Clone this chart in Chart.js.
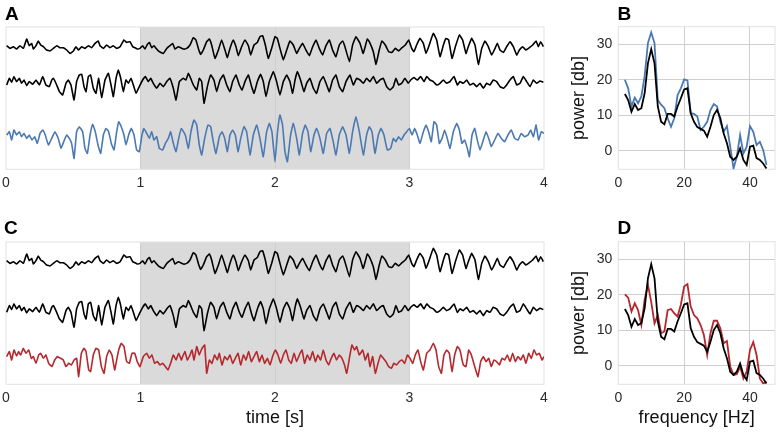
<!DOCTYPE html>
<html><head><meta charset="utf-8">
<script src="https://cdn.jsdelivr.net/npm/chart.js@4"></script>
<style>
html,body{margin:0;padding:0;background:#fff;}
body{width:777px;height:432px;position:relative;overflow:hidden;font-family:'Liberation Sans',Arial,sans-serif;}
canvas{position:absolute;}
.lbl{position:absolute;font:bold 19px 'Liberation Sans',Arial,sans-serif;line-height:19px;color:#000;z-index:2;}
</style></head><body>
<canvas id="cA" width="555" height="200" style="left:0;top:0"></canvas>
<canvas id="cB" width="222" height="200" style="left:555px;top:0"></canvas>
<canvas id="cC" width="555" height="217" style="left:0;top:215px"></canvas>
<canvas id="cD" width="222" height="217" style="left:555px;top:215px"></canvas>
<div class="lbl" style="left:5px;top:4px">A</div>
<div class="lbl" style="left:617.5px;top:4.2px">B</div>
<div class="lbl" style="left:4px;top:217.5px">C</div>
<div class="lbl" style="left:617.5px;top:217.5px">D</div>
<script>
// ---------- data ----------
const timeTicks = [0, 1, 2, 3, 4];
const freqTicks = [0, 20, 40];
const powerTicks = [0, 10, 20, 30];
const shadedWindow = [1, 3];
const timeTitle = 'time [s]';
const freqTitle = 'frequency [Hz]';
const powerTitle = 'power [db]';

const freqs = [2,3,4,5,6,7,8,9,10,11,12,13,14,15,16,17,18,19,20,21,22,23,24,25,26,27,28,29,30,31,32,33,34,35,36,37,38,39,40,41,42,43,44,45];
const specBlack = [16,14.3,11,13.2,11.5,12,16.2,24.6,28.6,24.6,12.5,8.2,7.5,10.4,10.4,9.7,12.5,14.8,17.3,17.6,10.6,8.2,6.7,6.2,5.7,4,6.8,10.1,11.5,9.2,5,2.2,-1.6,-2.5,-1.6,0.7,-2.5,-3.9,1.2,1.5,-2,-2.5,-3.5,-4.9];
const specBlue = [20,17.6,12.5,15,13.4,15.3,21,30.3,33.3,30.3,14.3,13,12,9.2,6.8,9.2,15.7,17.6,20.1,19.8,10.6,10.4,9.7,5.9,6.8,8.2,11.5,13.2,12.5,8.2,5.4,7,1.2,-4.9,-1.6,4.5,-0.7,1.2,7,5.4,1.7,2.6,0.3,-3.9];
const specRed = [20.1,19.2,15.3,17.6,15.7,11.5,18.6,22.8,18,12,14.3,9.2,9.7,15.7,16,14.8,13.9,17.2,22.3,23,16.7,14.3,13.4,11.5,8.7,3.1,9.2,12.7,12.7,10.6,6.4,7,-0.2,-2.5,-2.3,-0.2,-3.5,-1.6,4.5,6.7,3.1,-3.5,-4.9,-4.4];

// traces: [time s, amplitude]
const traceBlack1 = [[0.005,1.0],[0.030,-1.7],[0.055,0],[0.079,-2.3],[0.104,1.0],[0.129,-1.7],[0.154,7.7],[0.173,1.0],[0.191,3.3],[0.203,-2.3],[0.223,1.0],[0.240,5.7],[0.258,1.7],[0.278,0],[0.302,-3.3],[0.327,-4.3],[0.352,-1.7],[0.377,1.0],[0.401,-1.0],[0.426,-1.0],[0.451,-3.3],[0.476,-6.7],[0.501,-4.3],[0.520,0],[0.538,-3.3],[0.563,0],[0.587,-1.7],[0.612,1.0],[0.637,-1.0],[0.662,3.3],[0.686,5.7],[0.699,1.0],[0.724,-1.7],[0.748,1.7],[0.773,-1.0],[0.798,1.0],[0.823,-1.7],[0.848,0],[0.877,6.7],[0.897,4.3],[0.922,5.0],[0.942,0],[0.959,-1.0],[0.976,-2.3],[0.996,-1.7],[1.016,1.0],[1.033,-2.3],[1.051,2.3],[1.066,4.3],[1.083,-1.0],[1.100,1.0],[1.120,-2.3],[1.140,-5.0],[1.170,-6.7],[1.195,-1.7],[1.219,1.0],[1.239,3.3],[1.256,-2.3],[1.281,0],[1.318,-2.3],[1.343,-1.7],[1.368,1.7],[1.393,9.0],[1.412,6.7],[1.430,-1.7],[1.447,-7.7],[1.467,-3.3],[1.492,5.0],[1.512,7.7],[1.529,1.7],[1.554,-11.7],[1.579,-3.3],[1.603,6.7],[1.628,-3.3],[1.646,-11.0],[1.665,-1.7],[1.690,6.7],[1.710,0],[1.727,-9.0],[1.752,0],[1.777,6.7],[1.802,1.0],[1.819,-8.3],[1.844,1.7],[1.869,4.3],[1.888,10.0],[1.908,11.0],[1.928,1.7],[1.950,-11.7],[1.975,-1.7],[2.000,10.0],[2.017,8.3],[2.037,-1.7],[2.062,-13.3],[2.087,-3.3],[2.111,5.7],[2.136,1.7],[2.161,-6.7],[2.181,-1.7],[2.205,3.3],[2.230,-3.3],[2.255,-9.0],[2.280,0],[2.305,6.7],[2.329,-1.7],[2.354,-8.3],[2.379,1.0],[2.404,6.7],[2.428,-3.3],[2.453,-10.0],[2.478,1.7],[2.503,5.7],[2.520,0],[2.553,-15.0],[2.577,1.7],[2.602,10.0],[2.632,3.3],[2.656,-6.7],[2.686,7.7],[2.701,5.0],[2.731,-5.0],[2.751,-17.7],[2.775,-3.3],[2.795,5.7],[2.820,1.7],[2.845,-5.0],[2.870,-5.7],[2.894,-1.7],[2.919,-4.3],[2.944,-1.0],[2.969,1.7],[2.994,6.7],[3.016,-1.7],[3.033,-5.0],[3.053,1.7],[3.078,8.3],[3.103,3.3],[3.123,-6.7],[3.147,1.7],[3.177,13.3],[3.202,6.7],[3.227,-10.0],[3.252,1.7],[3.271,8.3],[3.291,6.7],[3.316,-11.7],[3.341,0],[3.371,11.7],[3.395,6.7],[3.420,-6.7],[3.437,0],[3.462,8.3],[3.487,1.7],[3.512,-17.7],[3.537,-1.7],[3.561,5.7],[3.586,0],[3.611,-8.3],[3.636,-1.7],[3.653,3.3],[3.673,-3.3],[3.698,-5.7],[3.722,0],[3.747,5.0],[3.772,0],[3.797,-8.3],[3.817,-3.3],[3.841,0],[3.866,-3.3],[3.891,-1.0],[3.916,1.7],[3.941,5.7],[3.958,0],[3.975,5.0],[3.995,0]];

const traceBlack2 = [[0.005,-1.7],[0.025,5.0],[0.042,1.0],[0.059,6.7],[0.079,1.7],[0.099,5.0],[0.116,0],[0.134,3.3],[0.154,-2.3],[0.173,1.7],[0.198,-1.0],[0.223,3.3],[0.248,-1.7],[0.273,6.7],[0.297,-1.7],[0.322,-3.3],[0.340,3.3],[0.352,5.0],[0.377,-1.7],[0.397,-8.3],[0.421,-11.7],[0.446,0],[0.463,3.3],[0.483,-1.7],[0.506,-16.7],[0.525,1.7],[0.545,8.3],[0.563,9.0],[0.580,-3.3],[0.595,-8.3],[0.612,6.7],[0.629,8.3],[0.649,-5.0],[0.669,-10.0],[0.689,5.0],[0.711,-14.3],[0.736,3.3],[0.761,10.0],[0.781,-1.7],[0.798,-13.3],[0.818,5.0],[0.835,13.3],[0.853,5.0],[0.872,-8.3],[0.892,3.3],[0.910,0],[0.929,5.0],[0.947,-1.7],[0.967,-10.0],[0.991,-3.3],[1.016,3.3],[1.036,6.7],[1.058,1.7],[1.076,5.0],[1.095,0],[1.120,-5.0],[1.145,0],[1.170,-3.3],[1.195,1.7],[1.219,5.0],[1.244,-5.0],[1.264,-16.7],[1.289,1.7],[1.318,5.0],[1.338,3.3],[1.356,10.0],[1.373,5.0],[1.393,-1.7],[1.418,-6.7],[1.437,5.0],[1.455,1.7],[1.472,-20.0],[1.497,-3.3],[1.522,8.3],[1.546,3.3],[1.566,-8.3],[1.591,3.3],[1.616,8.3],[1.641,-1.7],[1.665,-8.3],[1.685,1.7],[1.710,8.3],[1.735,-1.7],[1.755,-6.7],[1.777,1.7],[1.802,8.3],[1.826,-3.3],[1.844,-10.0],[1.869,1.7],[1.893,9.0],[1.913,1.7],[1.933,-13.3],[1.958,1.7],[1.988,11.7],[2.012,1.7],[2.037,-11.7],[2.062,1.7],[2.087,8.3],[2.111,1.7],[2.131,-10.0],[2.149,3.3],[2.166,11.7],[2.190,3.3],[2.215,-8.3],[2.235,0],[2.260,5.0],[2.285,-5.0],[2.309,-10.0],[2.334,1.7],[2.359,6.7],[2.384,-1.7],[2.404,-8.3],[2.428,3.3],[2.453,8.3],[2.478,-3.3],[2.503,-8.3],[2.528,1.7],[2.557,8.3],[2.582,-1.7],[2.607,5.0],[2.632,3.3],[2.657,0],[2.681,5.0],[2.706,1.7],[2.731,6.7],[2.756,0],[2.780,3.3],[2.805,5.0],[2.830,-3.3],[2.855,-6.7],[2.880,-3.3],[2.899,5.0],[2.919,-1.7],[2.942,0],[2.966,5.0],[2.991,0],[3.009,3.3],[3.033,5.7],[3.058,3.3],[3.083,6.7],[3.108,1.7],[3.128,6.7],[3.152,3.3],[3.177,1.7],[3.202,-1.7],[3.227,0],[3.252,3.3],[3.276,0],[3.301,1.7],[3.331,6.7],[3.356,-1.7],[3.375,1.7],[3.400,0],[3.425,3.3],[3.450,-1.7],[3.475,0],[3.499,-3.3],[3.524,0],[3.549,-5.0],[3.574,0],[3.598,-1.7],[3.623,3.3],[3.648,1.7],[3.673,-3.3],[3.698,-5.0],[3.722,-1.7],[3.747,3.3],[3.772,6.7],[3.797,-1.7],[3.822,0],[3.846,6.7],[3.871,1.7],[3.896,-3.3],[3.921,3.3],[3.945,0],[3.970,2.3],[3.995,1.0]];

const traceBlue = [[0.005,1.7],[0.025,5.0],[0.042,-3.3],[0.059,6.7],[0.079,1.7],[0.099,5.0],[0.116,0],[0.134,3.3],[0.154,-1.7],[0.173,1.7],[0.193,-3.3],[0.213,0],[0.233,-6.7],[0.253,3.3],[0.273,6.7],[0.292,1.7],[0.315,-8.3],[0.340,-1.7],[0.364,5.0],[0.389,-1.7],[0.409,-11.7],[0.434,-3.3],[0.451,1.7],[0.471,-1.7],[0.488,-6.7],[0.506,-21.7],[0.525,5.0],[0.545,10.0],[0.570,5.0],[0.587,-11.7],[0.605,-16.7],[0.625,1.7],[0.644,12.3],[0.664,5.0],[0.684,-8.3],[0.704,-16.7],[0.724,1.7],[0.743,8.3],[0.763,5.0],[0.783,-6.7],[0.803,-13.3],[0.823,5.0],[0.838,15.0],[0.857,10.0],[0.877,1.7],[0.892,-8.3],[0.912,1.7],[0.932,8.3],[0.952,1.7],[0.971,-13.3],[0.991,-15.0],[1.011,1.7],[1.026,8.3],[1.046,3.3],[1.066,-1.7],[1.083,5.0],[1.100,-3.3],[1.120,0],[1.140,-11.7],[1.165,-13.3],[1.185,-6.7],[1.207,-1.7],[1.224,5.0],[1.244,-6.7],[1.264,-15.0],[1.284,-1.7],[1.304,8.3],[1.333,1.7],[1.356,-11.7],[1.375,5.0],[1.398,16.7],[1.418,11.7],[1.437,-8.3],[1.455,-18.3],[1.477,-1.7],[1.502,11.7],[1.522,10.0],[1.541,-5.0],[1.561,-16.7],[1.586,0],[1.606,5.0],[1.626,-1.7],[1.646,-15.0],[1.665,1.7],[1.685,6.7],[1.705,1.7],[1.725,-15.0],[1.745,-1.7],[1.770,10.0],[1.789,5.0],[1.814,-18.3],[1.839,1.7],[1.864,11.7],[1.888,-1.7],[1.913,-20.0],[1.938,5.0],[1.958,13.3],[1.977,5.0],[2.000,-25.0],[2.019,5.0],[2.037,21.7],[2.056,11.7],[2.074,-15.0],[2.092,-25.0],[2.116,1.7],[2.136,13.3],[2.161,-1.7],[2.181,-18.3],[2.205,3.3],[2.225,11.7],[2.245,5.0],[2.265,-15.0],[2.290,1.7],[2.309,8.3],[2.334,-1.7],[2.359,-16.7],[2.384,3.3],[2.409,8.3],[2.433,-5.0],[2.453,-18.3],[2.478,1.7],[2.503,10.0],[2.528,1.7],[2.553,-16.7],[2.577,5.0],[2.602,20.0],[2.627,5.0],[2.657,-18.3],[2.681,1.7],[2.701,10.0],[2.721,5.0],[2.743,-16.7],[2.768,1.7],[2.788,8.3],[2.810,1.7],[2.835,-13.3],[2.860,-11.7],[2.880,-1.7],[2.899,-5.0],[2.919,0],[2.939,-3.3],[2.959,1.7],[2.979,5.0],[2.999,8.3],[3.019,1.7],[3.038,8.3],[3.058,1.7],[3.078,-6.7],[3.103,5.0],[3.123,11.7],[3.142,5.0],[3.162,-5.0],[3.182,15.0],[3.202,11.7],[3.222,-6.7],[3.242,-1.7],[3.261,6.7],[3.281,-1.7],[3.301,-11.7],[3.326,5.0],[3.351,13.3],[3.371,6.7],[3.390,-6.7],[3.410,-3.3],[3.430,-11.7],[3.445,-20.0],[3.465,1.7],[3.485,8.3],[3.504,-3.3],[3.524,-13.3],[3.549,-3.3],[3.569,5.0],[3.589,-1.7],[3.608,-10.0],[3.633,-3.3],[3.658,3.3],[3.683,-1.7],[3.708,-5.0],[3.732,1.7],[3.757,6.7],[3.782,-1.7],[3.807,-3.3],[3.831,3.3],[3.856,0],[3.881,1.7],[3.901,6.7],[3.921,0],[3.941,11.7],[3.960,-3.3],[3.980,5.0],[4.000,3.3]];

const traceRed = [[0.005,1.7],[0.025,6.7],[0.042,-1.7],[0.059,8.3],[0.079,2.3],[0.094,6.7],[0.109,3.3],[0.129,10.0],[0.149,5.0],[0.169,8.3],[0.188,0],[0.203,1.7],[0.223,-5.0],[0.243,3.3],[0.258,5.0],[0.278,0],[0.297,3.3],[0.317,-5.0],[0.342,-8.3],[0.362,-1.7],[0.382,1.7],[0.406,0],[0.426,-1.7],[0.446,-8.3],[0.466,-5.0],[0.486,-6.7],[0.506,-1.7],[0.525,0],[0.540,-18.3],[0.560,5.0],[0.580,10.0],[0.595,6.7],[0.615,-11.7],[0.629,-13.3],[0.649,3.3],[0.669,10.0],[0.689,8.3],[0.709,-8.3],[0.729,-15.0],[0.748,1.7],[0.768,8.3],[0.788,3.3],[0.808,-11.7],[0.823,-1.7],[0.838,8.3],[0.857,15.0],[0.877,11.7],[0.897,-3.3],[0.917,-5.0],[0.937,5.0],[0.957,5.0],[0.976,-3.3],[0.996,-8.3],[1.021,1.7],[1.046,5.0],[1.066,0],[1.085,3.3],[1.105,-5.0],[1.125,-3.3],[1.145,-6.7],[1.165,-5.0],[1.185,-8.3],[1.204,-11.7],[1.224,-5.0],[1.244,3.3],[1.264,-1.7],[1.284,5.0],[1.304,-1.7],[1.313,1.7],[1.331,6.7],[1.348,-1.7],[1.368,3.3],[1.383,8.3],[1.398,-1.7],[1.418,11.7],[1.437,3.3],[1.457,10.0],[1.477,13.3],[1.492,-15.0],[1.512,-1.7],[1.531,-5.0],[1.551,3.3],[1.571,-1.7],[1.586,5.0],[1.606,-6.7],[1.626,1.7],[1.646,-1.7],[1.665,3.3],[1.685,-5.0],[1.705,0],[1.725,5.0],[1.745,-6.7],[1.765,3.3],[1.784,-1.7],[1.804,6.7],[1.824,-3.3],[1.844,1.7],[1.864,6.7],[1.884,-3.3],[1.903,3.3],[1.923,-5.0],[1.943,0],[1.963,-6.7],[1.982,1.7],[2.002,8.3],[2.022,3.3],[2.042,-5.0],[2.062,3.3],[2.082,8.3],[2.102,-1.7],[2.121,-5.0],[2.141,5.0],[2.161,-3.3],[2.181,3.3],[2.201,8.3],[2.220,-5.0],[2.240,3.3],[2.260,-1.7],[2.280,6.7],[2.300,-3.3],[2.319,3.3],[2.339,-1.7],[2.359,8.3],[2.379,-1.7],[2.399,-6.7],[2.418,0],[2.438,5.0],[2.458,-1.7],[2.478,3.3],[2.498,0],[2.517,-6.7],[2.533,-15.0],[2.553,0],[2.572,13.3],[2.592,8.3],[2.607,11.7],[2.627,3.3],[2.652,8.3],[2.671,-1.7],[2.691,5.0],[2.706,-8.3],[2.726,1.7],[2.746,-15.0],[2.766,-5.0],[2.785,3.3],[2.805,0],[2.825,-3.3],[2.845,-8.3],[2.865,-10.0],[2.884,-5.0],[2.904,-6.7],[2.924,-3.3],[2.944,-1.7],[2.964,-5.0],[2.984,3.3],[3.004,0],[3.024,-5.0],[3.043,3.3],[3.063,8.3],[3.083,-3.3],[3.103,-11.7],[3.128,5.0],[3.152,8.3],[3.177,15.0],[3.197,8.3],[3.217,-8.3],[3.237,-15.0],[3.256,3.3],[3.276,8.3],[3.296,5.0],[3.316,-13.3],[3.336,3.3],[3.356,11.7],[3.375,8.3],[3.400,-6.7],[3.420,-8.3],[3.440,8.3],[3.460,3.3],[3.485,-8.3],[3.509,-18.3],[3.529,-3.3],[3.549,1.7],[3.569,-3.3],[3.589,0],[3.608,-8.3],[3.628,-1.7],[3.648,-3.3],[3.668,-6.7],[3.688,0],[3.708,-1.7],[3.727,3.3],[3.747,-3.3],[3.767,5.0],[3.787,-3.3],[3.807,1.7],[3.827,-1.7],[3.846,3.3],[3.866,-5.0],[3.886,5.0],[3.906,0],[3.926,8.3],[3.945,3.3],[3.965,5.0],[3.985,-1.7],[4.000,1.7]];

// vertical placement of each trace inside its panel (display baselines)
const baseA = {black1: 122.6, black2: 86, blue: 32.6};
const baseC = {black1: 122.6, black2: 73.7, red: 26};

// ---------- styling ----------
const FONT = "'Liberation Sans', Arial, Helvetica, sans-serif";
Chart.defaults.font.family = FONT;
Chart.defaults.font.weight = 'normal';
Chart.defaults.color = '#2a2a2a';
const BLUE = '#4b79b2', RED = '#b5282d', BLACK = '#000';
const GRID = '#cfcfcf', BOX = '#e2e2e2', SHADE = '#dadada';
const TICKFONT = {size: 14, weight: 'normal', family: FONT};
const TITLEFONT = {size: 18, weight: 'normal', family: FONT};

const boxPlugin = {
  id: 'box',
  beforeDraw(chart, args, opts) {
    const {ctx, chartArea: a, scales: {x}} = chart;
    ctx.save();
    if (opts && opts.shade) {
      const x1 = x.getPixelForValue(opts.shade[0]);
      const x2 = x.getPixelForValue(opts.shade[1]);
      ctx.fillStyle = SHADE;
      ctx.fillRect(x1, a.top, x2 - x1, a.bottom - a.top);
    }
    ctx.restore();
  },
  beforeDatasetsDraw(chart) {
    const {ctx, chartArea: a} = chart;
    ctx.save();
    ctx.strokeStyle = BOX;
    ctx.lineWidth = 1;
    ctx.strokeRect(a.left, a.top, a.right - a.left, a.bottom - a.top);
    ctx.restore();
  }
};

const edgeless = c => (c.tick && (c.tick.value === c.scale.min || c.tick.value === c.scale.max)) ? 'rgba(0,0,0,0)' : GRID;
const asTicks = arr => arr.map(v => ({value: v}));
const toXY = (trace, base) => trace.map(([t, v]) => ({x: t, y: v + base}));

function timeChart(id, series, title) {
  return new Chart(document.getElementById(id), {
    type: 'line',
    data: {datasets: series.map(([trace, base, color]) => ({
      data: toXY(trace, base), borderColor: color, borderWidth: 1.6,
      pointRadius: 0, tension: 0.1, fill: false, borderJoinStyle: 'round'
    }))},
    options: {
      responsive: false, animation: false, events: [],
      layout: {padding: {left: 6, right: 11, top: 27, bottom: 0}},
      plugins: {legend: {display: false}, tooltip: {enabled: false}, box: {shade: shadedWindow}},
      scales: {
        x: {
          type: 'linear', min: 0, max: 4,
          afterBuildTicks: s => { s.ticks = asTicks(timeTicks); },
          afterFit: s => { s.height = title ? 47.7 : 30.7; s.paddingLeft = 0; s.paddingRight = 0; },
          grid: {color: edgeless, drawTicks: false, lineWidth: 1},
          border: {display: false},
          ticks: {padding: 5, font: TICKFONT, color: '#2a2a2a', maxRotation: 0, autoSkip: false},
          title: {display: !!title, text: title || '', font: TITLEFONT, color: '#111', padding: {top: 0, bottom: 3.2}}
        },
        y: {type: 'linear', display: false, min: 0, max: 142.3}
      }
    },
    plugins: [boxPlugin]
  });
}

function specChart(id, series, title) {
  return new Chart(document.getElementById(id), {
    type: 'line',
    data: {datasets: series.map(([vals, color]) => ({
      data: freqs.map((f, i) => ({x: f, y: vals[i]})), borderColor: color, borderWidth: 1.8,
      pointRadius: 0, tension: 0, fill: false
    }))},
    options: {
      responsive: false, animation: false, events: [],
      layout: {padding: {left: 0, right: 2, top: 26.7, bottom: 0}},
      plugins: {legend: {display: false}, tooltip: {enabled: false}, box: {}},
      scales: {
        x: {
          type: 'linear', min: 0, max: 47.6,
          afterBuildTicks: s => { s.ticks = asTicks(freqTicks); },
          afterFit: s => { s.height = title ? 47.7 : 30.7; s.paddingLeft = 0; s.paddingRight = 0; },
          grid: {color: edgeless, drawTicks: false},
          border: {display: false},
          ticks: {padding: 5, font: TICKFONT, color: '#2a2a2a', maxRotation: 0, autoSkip: false},
          title: {display: !!title, text: title || '', font: TITLEFONT, color: '#111', padding: {top: 0, bottom: 3.2}}
        },
        y: {
          type: 'linear', min: -5.14, max: 34.9,
          afterBuildTicks: s => { s.ticks = asTicks(powerTicks); },
          afterFit: s => { s.width = 63.3; s.paddingTop = 0; s.paddingBottom = 0; },
          grid: {color: GRID, drawTicks: false},
          border: {display: false},
          ticks: {padding: 6, font: TICKFONT, color: '#2a2a2a', autoSkip: false},
          title: {display: true, text: powerTitle, font: TITLEFONT, color: '#111', padding: {top: 13.2, bottom: 0}}
        }
      }
    },
    plugins: [boxPlugin]
  });
}

timeChart('cA', [[traceBlack1, baseA.black1, BLACK], [traceBlack2, baseA.black2, BLACK], [traceBlue, baseA.blue, BLUE]], null);
timeChart('cC', [[traceBlack1, baseC.black1, BLACK], [traceBlack2, baseC.black2, BLACK], [traceRed, baseC.red, RED]], timeTitle);
specChart('cB', [[specBlack, BLACK], [specBlue, BLUE]], null);
specChart('cD', [[specBlack, BLACK], [specRed, RED]], freqTitle);
</script>
</body></html>
